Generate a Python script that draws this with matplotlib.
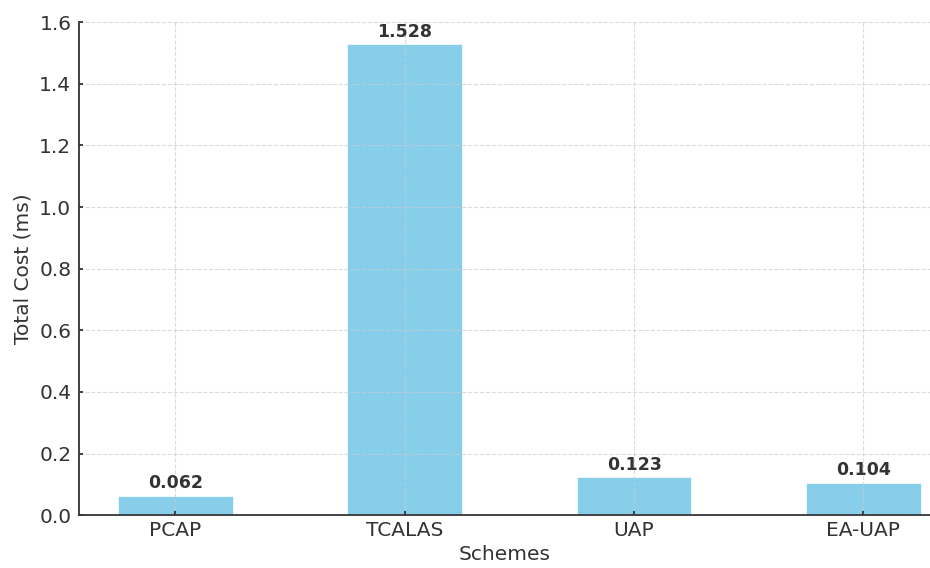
import matplotlib.pyplot as plt

schemes = ['PCAP', 'TCALAS', 'UAP', 'EA-UAP']
total_cost = [0.062, 1.528, 0.123, 0.104]
yticks = [0.0, 0.2, 0.4, 0.6, 0.8, 1.0, 1.2, 1.4, 1.6]

text_col = '#333333'

fig = plt.figure(figsize=(9.3, 5.68), dpi=100)
ax = fig.add_axes([0.085, 0.093, 0.915, 0.868])

bars = ax.bar(schemes, total_cost, width=0.5, color='skyblue', edgecolor='white', linewidth=0.5)

for b, v in zip(bars, total_cost):
    ax.text(b.get_x() + b.get_width() / 2, v + 0.012, f'{v:.3f}',
            ha='center', va='bottom', fontsize=12.5, fontweight='bold', color=text_col)

ax.set_xlim(-0.42, 3.29)
ax.set_ylim(0, 1.6)
ax.set_yticks(yticks)
ax.set_yticklabels([f'{t:.1f}' for t in yticks])

ax.grid(True, linestyle='--', color='#cccccc', linewidth=0.8, alpha=0.7)
ax.set_axisbelow(False)

for side in ['top', 'right']:
    ax.spines[side].set_visible(False)
for side in ['left', 'bottom']:
    ax.spines[side].set_color(text_col)
    ax.spines[side].set_linewidth(1.3)

ax.tick_params(axis='both', direction='in', labelsize=14.5, colors=text_col, length=3, width=1.3)
ax.tick_params(axis='x', pad=4.5)
ax.tick_params(axis='y', pad=5.5)
ax.set_xlabel('Schemes', fontsize=14.5, color=text_col, labelpad=3)
ax.set_ylabel('Total Cost (ms)', fontsize=14.5, color=text_col, labelpad=5)

fig.savefig('out.png', dpi=100)
